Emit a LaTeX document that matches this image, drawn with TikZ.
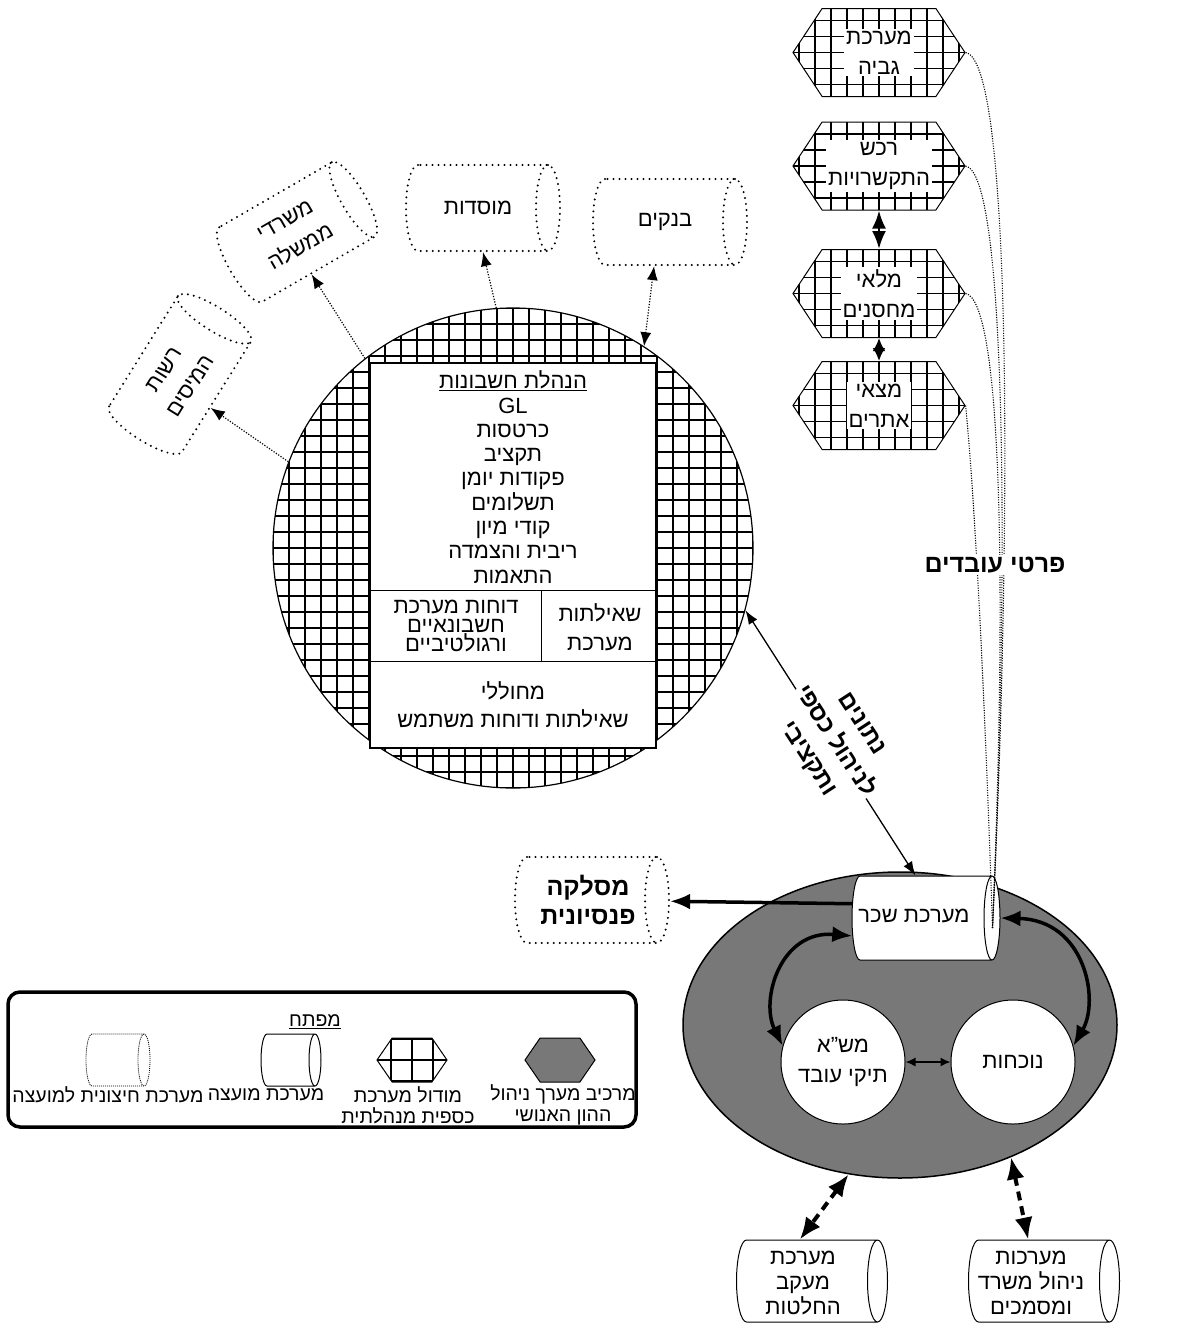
\documentclass[tikz,border=0pt]{standalone}
\usepackage{fontspec}
\setmainfont{Liberation Sans}[Script=Hebrew]
\usetikzlibrary{arrows.meta,shapes.geometric,shapes.symbols,calc}
\TeXXeTstate=1
\newcommand\heb[1]{\beginR #1\endR}
\newcommand\fs[2]{\fontsize{#1}{#2}\selectfont\lineskiplimit=-40pt\relax}
\definecolor{hrgray}{gray}{0.47}
\begin{document}
\begin{tikzpicture}[x=1pt,y=-1pt,
  gridfill/.style={path picture={\draw[line width=1.5pt,step=#1pt] (path picture bounding box.south west) grid (path picture bounding box.north east);}},
  gridfill/.default=16,
  cylbase/.style={cylinder, draw, inner xsep=0pt, inner ysep=10pt, anchor=shape center},
  extcyl/.style={cylbase, line width=2.2pt, dash pattern=on 0pt off 6pt, line cap=round, minimum height=154, minimum width=86, shape aspect=1.2},
  syscyl/.style={cylbase, fill=white, line width=1pt, minimum height=151, minimum width=82, shape aspect=1.0},
  cyltext/.style={align=center, inner sep=0pt, font={\fs{22}{31}}},
  hexa/.style={signal, signal to=east and west, signal pointer angle=113, draw, line width=1pt, fill=white, gridfill, minimum width=172, minimum height=88, inner sep=0pt},
  hextext/.style={fill=white, inner sep=2pt, align=center, font={\fs{22}{30}}},
  dotarrow/.style={line width=1.2pt, dash pattern=on 1.2pt off 1.6pt, -{Latex[length=14pt,width=11pt]}},
  dotboth/.style={line width=1.2pt, dash pattern=on 1.2pt off 1.6pt, {Latex[length=14pt,width=11pt]}-{Latex[length=14pt,width=11pt]}},
  dotcurve/.style={line width=1.1pt, dash pattern=on 1.1pt off 1.4pt},
  thickarrow/.style={line width=3.5pt, -{Latex[length=20pt,width=16pt]}},
  thickboth/.style={line width=3.5pt, {Latex[length=20pt,width=16pt]}-{Latex[length=20pt,width=16pt]}},
  dashboth/.style={line width=4pt, dash pattern=on 9pt off 6pt, {Latex[length=22pt,width=18pt]}-{Latex[length=22pt,width=18pt]}},
  txt/.style={align=center, inner sep=0pt},
]
\useasboundingbox (0,0) rectangle (1179,1326);

% ---------- financial module circle ----------
\node[circle, draw, line width=1.2pt, fill=white, gridfill, minimum size=480, inner sep=0pt] (acc) at (513,548) {};
\node[draw, fill=white, line width=1.2pt, minimum width=286, minimum height=385, inner sep=0pt] (accbox) at (513,555.5) {};
\draw[line width=1.2pt] ($(accbox.north west)+(0,228)$) -- ($(accbox.north east)+(0,228)$);
\draw[line width=1.2pt] ($(accbox.north west)+(0,299)$) -- ($(accbox.north east)+(0,299)$);
\draw[line width=1.2pt] ($(accbox.north west)+(172,228)$) -- ($(accbox.north west)+(172,299)$);
\node[txt, font={\fs{22}{24.3}}] (accmain) at (513,477) {\underline{\heb{הנהלת חשבונות}}\\GL\\\heb{כרטסות}\\\heb{תקציב}\\\heb{פקודות יומן}\\\heb{תשלומים}\\\heb{קודי מיון}\\\heb{ריבית והצמדה}\\\heb{התאמות}};
\node[txt, font={\fs{22}{19}}] (accrep) at (456,626) {\heb{דוחות מערכת}\\\heb{חשבונאיים}\\\heb{ורגולטיביים}};
\node[txt, font={\fs{22}{29}}] (accq) at (600,627) {\heb{שאילתות}\\\heb{מערכת}};
\node[txt, font={\fs{22}{28}}] (accgen) at (513,705) {\heb{מחוללי}\\\heb{שאילתות ודוחות משתמש}};

% ---------- external systems ----------
\node[extcyl] (mos) at (483,208) {};
\node[cyltext] (most) at (478,208) {\heb{מוסדות}};
\node[extcyl] (bank) at (670,222) {};
\node[cyltext] (bankt) at (665,222) {\heb{בנקים}};
\node[extcyl, rotate=30] (gov) at (297,232) {};
\node[cyltext, rotate=30] (govt) at (293,234) {\heb{משרדי}\\\heb{ממשלה}};
\node[extcyl, rotate=58] (tax) at (180,374) {};
\node[cyltext, rotate=58] (taxt) at (177.5,378) {\heb{רשות}\\\heb{המיסים}};
\draw[dotarrow] (acc.159) -- (tax);
\draw[dotarrow] (acc.128) -- (gov);
\draw[dotarrow] (acc.94) -- (mos);
\draw[dotboth] (acc.57) -- (bank);

% ---------- hexagon modules ----------
\node[hexa] (gv) at (879,52.5) {};
\node[hextext] (gvt) at (gv) {\heb{מערכת}\\\heb{גביה}};
\node[hexa] (rk) at (879,166) {};
\node[hextext] (rkt) at (rk) {\heb{רכש}\\\heb{התקשרויות}};
\node[hexa] (ml) at (879,293.5) {};
\node[hextext] (mlt) at (ml) {\heb{מלאי}\\\heb{מחסנים}};
\node[hexa] (mz) at (879,405.5) {};
\node[hextext] (mzt) at (mz) {\heb{מצאי}\\\heb{אתרים}};
\draw[line width=2.5pt, {Latex[length=18pt,width=14pt]}-{Latex[length=18pt,width=14pt]}] (rk.south) -- (ml.north);
\draw[line width=2.5pt, {Latex[length=13pt,width=13pt]}-{Latex[length=13pt,width=13pt]}] (ml.south) -- (mz.north);

% ---------- HR ellipse ----------
\node[ellipse, draw, line width=1.5pt, fill=hrgray, minimum width=434, minimum height=306, inner sep=0pt] (hr) at (900,1025) {};
\node[cylbase, fill=white, line width=1pt, minimum height=148, minimum width=84, shape aspect=0.8] (salary) at (926,918) {};
\node[cyltext, font={\fs{22}{25}}] (salaryt) at (914,916) {\heb{מערכת שכר}};
\coordinate (pend) at ($(salary.east)+(-8,10)$);
\node[circle, draw, fill=white, line width=1pt, minimum size=124, inner sep=0pt, txt, font={\fs{22}{30}}] (sha) at (843,1062) {\heb{מש”א}\\\heb{תיקי עובד}};
\node[circle, draw, fill=white, line width=1pt, minimum size=124, inner sep=0pt, font={\fs{22}{30}}] (noc) at (1013,1062) {\heb{נוכחות}};
\draw[line width=1.5pt, {Latex[length=10pt,width=9pt]}-{Latex[length=10pt,width=9pt]}] (sha) -- (noc);
\draw[thickboth] (salary.195) .. controls (780,930) and (760,1000) .. (sha.165);
\draw[thickboth] (salary.east) .. controls (1085,920) and (1100,1000) .. (noc.15);

\node[extcyl] (mas) at (592,900) {};
\node[cyltext, font={\bfseries\fs{25}{29}}] (mast) at (588,900) {\heb{מסלקה}\\\heb{פנסיונית}};
\draw[thickarrow] (salary.168) -- (mas);

\node[syscyl] (dec) at (812,1281) {};
\node[cyltext, font={\fs{22}{25}}] (dect) at (803,1283) {\heb{מערכת}\\\heb{מעקב}\\\heb{החלטות}};
\node[syscyl] (off) at (1044,1281) {};
\node[cyltext, font={\fs{22}{25}}] (offt) at (1031,1283) {\heb{מערכות}\\\heb{ניהול משרד}\\\heb{ומסמכים}};
\draw[dashboth] (hr.-109) -- (dec.95);
\draw[dashboth] (hr.-50) -- (off.100);

% ---------- connections ----------
\draw[line width=1.3pt, {Latex[length=14pt,width=10pt]}-{Latex[length=14pt,width=10pt]}] (acc.-15) -- (salary.95);
\node[txt, fill=white, inner sep=1pt, rotate=-57, font={\bfseries\fs{24}{32}}] (lbl) at (834,742) {\heb{נתונים}\\\heb{לניהול כספי}\\\heb{ותקציבי}};

\draw[dotcurve] (gv.east) .. controls (1012,60) and (1012,520) .. (pend);
\draw[dotcurve] (rk.east) .. controls (1005,172) and (1010,540) .. (pend);
\draw[dotcurve] (ml.east) .. controls (1000,300) and (1008,560) .. (pend);
\draw[dotcurve] (mz.east) .. controls (975,500) and (985,700) .. (pend);
\node[fill=white, inner sep=2pt, font={\bfseries\fs{25}{25}}] (pe) at (995,565) {\heb{פרטי עובדים}};

% ---------- legend ----------
\node[draw, line width=3.5pt, rounded corners=12pt, minimum width=628, minimum height=135, inner sep=0pt] (leg) at (322,1059.5) {};
\node[font={\fs{19.5}{21}}] (legt) at (315,1022) {\underline{\heb{מפתח}}};
\node[signal, signal to=east and west, signal pointer angle=111, draw, line width=1pt, fill=hrgray, minimum width=70, minimum height=44, inner sep=0pt] (lg1) at (560,1060) {};
\node[signal, signal to=east and west, signal pointer angle=111, draw, line width=1pt, fill=white, gridfill=21, minimum width=70, minimum height=44, inner sep=0pt] (lg2) at (412,1060) {};
\node[cylbase, line width=1pt, minimum height=60, minimum width=52, shape aspect=0.6] (lg3) at (291,1060) {};
\node[cylbase, line width=0.8pt, dash pattern=on 1pt off 1pt, minimum height=64, minimum width=52, shape aspect=0.6] (lg4) at (118,1060) {};
\node[txt, font={\fs{19.5}{21}}] (lg1t) at (563,1105) {\heb{מרכיב מערך ניהול}\\\heb{ההון האנושי}};
\node[txt, font={\fs{19.5}{21}}] (lg2t) at (408,1105) {\heb{מודול מערכת}\\\heb{כספית מנהלתית}};
\node[txt, font={\fs{19.5}{21}}] (lg3t) at (266,1095) {\heb{מערכת מועצה}};
\node[txt, font={\fs{19.5}{21}}] (lg4t) at (108,1095) {\heb{מערכת חיצונית למועצה}};
\end{tikzpicture}
\end{document}
